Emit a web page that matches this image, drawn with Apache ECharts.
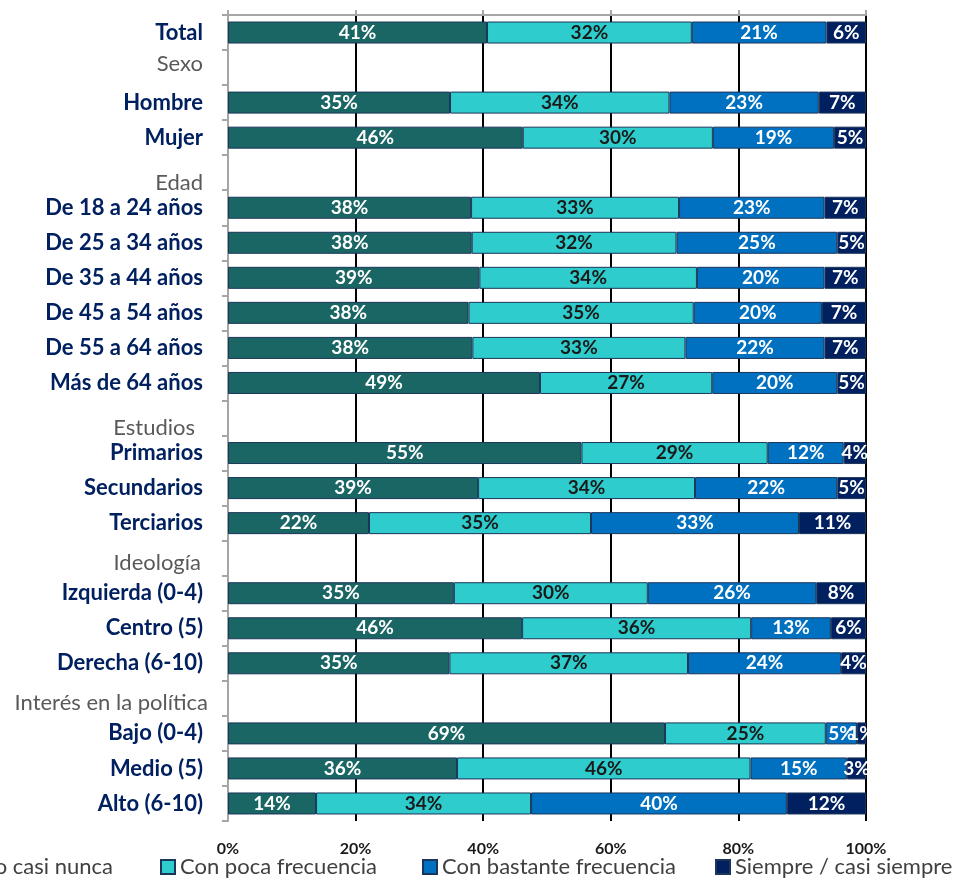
<!DOCTYPE html>
<html>
<head>
<meta charset="utf-8">
<script src="https://cdn.jsdelivr.net/npm/echarts@6/dist/echarts.min.js"></script>
<style>
html,body{margin:0;padding:0;background:#fff;}
#chart{width:967px;height:896px;}
</style>
</head>
<body>
<div id="chart"></div>
<script>
var categories = ['Total','Sexo','Hombre','Mujer','Edad','De 18 a 24 años','De 25 a 34 años','De 35 a 44 años','De 45 a 54 años','De 55 a 64 años','Más de 64 años','Estudios','Primarios','Secundarios','Terciarios','Ideología','Izquierda (0-4)','Centro (5)','Derecha (6-10)','Interés en la política','Bajo (0-4)','Medio (5)','Alto (6-10)'];
var headers = ['Sexo','Edad','Estudios','Ideología','Interés en la política'];
var seriesNames = ['Nunca o casi nunca','Con poca frecuencia','Con bastante frecuencia','Siempre / casi siempre'];
var nunca    = [40.6, null, 34.8, 46.2, null, 38.1, 38.2, 39.4, 37.7, 38.3, 48.9, null, 55.4, 39.2, 22.1, null, 35.4, 46.1, 34.7, null, 68.5, 35.9, 13.8];
var poca     = [32.1, null, 34.4, 29.8, null, 32.6, 32.1, 34.1, 35.3, 33.4, 27.0, null, 29.2, 34.0, 34.8, null, 30.4, 35.9, 37.4, null, 25.2, 46.0, 33.7];
var bastante = [21.1, null, 23.4, 19.0, null, 22.8, 25.2, 20.0, 20.1, 21.8, 19.6, null, 11.9, 22.3, 32.6, null, 26.4, 12.5, 24.0, null, 4.9, 15.1, 40.1];
var siempre  = [6.2, null, 7.4, 5.0, null, 6.5, 4.5, 6.5, 6.9, 6.5, 4.5, null, 3.5, 4.5, 10.5, null, 7.8, 5.5, 3.9, null, 1.4, 3.0, 12.4];
var xTicks = [0, 20, 40, 60, 80, 100];

var FONT = 'Lato';
var colors = ['#1a6664', '#2ecccc', '#0070c0', '#002060'];
var labelColors = ['#ffffff', '#1a1a1a', '#ffffff', '#ffffff'];
var allData = [nunca, poca, bastante, siempre];

var headerStyle = {
  'Sexo': 'hSexo', 'Edad': 'hEdad', 'Estudios': 'hEst', 'Ideología': 'hIdeo', 'Interés en la política': 'hInt'
};
function hdr(padding) {
  return {fontFamily: FONT, fontSize: 22, fontWeight: 'normal', color: '#595959', padding: padding};
}

var series = seriesNames.map(function (name, i) {
  return {
    name: name,
    type: 'bar',
    stack: 'total',
    barWidth: 22,
    xAxisIndex: 0,
    data: allData[i],
    itemStyle: {color: colors[i], borderColor: '#1c355a', borderWidth: 1},
    label: {
      show: true,
      position: 'inside',
      fontFamily: FONT,
      fontWeight: 'bold',
      fontSize: 19,
      color: labelColors[i],
      formatter: function (p) { return p.value == null ? '' : Math.round(p.value) + '%'; }
    },
    emphasis: {disabled: true}
  };
});

var legendLefts = [null, 160, 422, 715];
var legends = seriesNames.map(function (name, i) {
  var l = {
    data: [name],
    top: 856,
    padding: 0,
    itemWidth: 14,
    itemHeight: 14,
    icon: 'rect',
    textStyle: {fontFamily: FONT, fontSize: 22, color: '#404040', lineHeight: 22},
    selectedMode: false
  };
  if (i === 0) { l.right = 854; } else { l.left = legendLefts[i]; }
  return l;
});

var chart = echarts.init(document.getElementById('chart'));
chart.setOption({
  animation: false,
  backgroundColor: '#fff',
  grid: {left: 228, right: 101, top: 15, bottom: 75, containLabel: false},
  legend: legends,
  xAxis: [{
    type: 'value', min: 0, max: 100, interval: 20, position: 'bottom',
    axisLine: {show: false}, axisTick: {show: false},
    axisLabel: {formatter: '{value}%', fontFamily: FONT, fontWeight: 'bold', fontSize: 16, color: '#1a1a1a', margin: 20},
    splitLine: {show: true, lineStyle: {color: '#000', width: 2}}
  }, {
    type: 'value', min: 0, max: 100, interval: 20, position: 'top',
    axisLine: {show: true, lineStyle: {color: '#a6a6a6', width: 2}},
    axisTick: {show: true, inside: false, length: 5, lineStyle: {color: '#a6a6a6', width: 2}},
    axisLabel: {show: false},
    splitLine: {show: false}
  }],
  yAxis: {
    type: 'category', inverse: true, data: categories,
    axisLine: {show: true, lineStyle: {color: '#a6a6a6', width: 2}},
    axisTick: {show: true, length: 6, lineStyle: {color: '#a6a6a6', width: 2}},
    axisLabel: {
      margin: 20,
      formatter: function (v) {
        if (headers.indexOf(v) >= 0) return '{' + headerStyle[v] + '|' + v + '}';
        return '{b|' + v + '}';
      },
      rich: {
        b: {fontFamily: FONT, fontSize: 22, fontWeight: 'bold', color: '#002060', padding: [0, 5, 0, 0]},
        hSexo: hdr([0, 5, 8, 0]),
        hEdad: hdr([20, 5, 0, 0]),
        hEst: hdr([20, 13, 0, 0]),
        hIdeo: hdr([10, 7, 0, 0]),
        hInt: hdr([10, 0, 0, 0])
      }
    }
  },
  series: series
});
</script>
</body>
</html>
